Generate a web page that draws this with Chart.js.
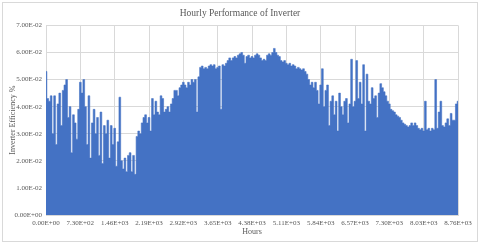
<!DOCTYPE html>
<html>
<head>
<meta charset="utf-8">
<script src="https://cdn.jsdelivr.net/npm/chart.js@4.4.1/dist/chart.umd.min.js"></script>
<style>
    html, body { margin: 0; padding: 0; background: #fff; }
    #wrap { position: relative; width: 480px; height: 244px; }
    #frame { position: absolute; left: 2px; top: 2px; width: 474px; height: 238px; border: 1px solid #d9d9d9; pointer-events: none; }
</style>
</head>
<body>
<div id="wrap">
    <canvas id="inverterChart" width="480" height="244"></canvas>
    <div id="frame"></div>
</div>
<script>
// Zaman adımı (saat) ve eksen ayarları
const hourStep = 36.5;
const xTicks = [0, 730, 1460, 2190, 2920, 3650, 4380, 5110, 5840, 6570, 7300, 8030, 8760];
const yTicks = [0, 0.01, 0.02, 0.03, 0.04, 0.05, 0.06, 0.07];

// Verim değerleri
const efficiency = [
    0.053, 0.043, 0.042, 0.044, 0.030, 0.044, 0.026, 0.041, 0.045, 0.033,
    0.046, 0.048, 0.050, 0.036, 0.040, 0.023, 0.037, 0.034, 0.028, 0.039,
    0.049, 0.045, 0.050, 0.040, 0.026, 0.044, 0.021, 0.034, 0.039, 0.030,
    0.036, 0.022, 0.038, 0.019, 0.033, 0.030, 0.035, 0.021, 0.033, 0.026,
    0.032, 0.018, 0.027, 0.0435, 0.020, 0.017, 0.021, 0.016, 0.022, 0.023,
    0.016, 0.022, 0.015, 0.029, 0.031, 0.030, 0.034, 0.036, 0.037, 0.034,
    0.036, 0.031, 0.043, 0.037, 0.042, 0.038, 0.037, 0.044, 0.043, 0.038,
    0.039, 0.040, 0.038, 0.041, 0.043, 0.046, 0.046, 0.044, 0.047, 0.048,
    0.049, 0.048, 0.047, 0.049, 0.048, 0.050, 0.049, 0.050, 0.038, 0.051,
    0.0545, 0.055, 0.054, 0.0545, 0.054, 0.055, 0.0555, 0.055, 0.0555, 0.054,
    0.0545, 0.055, 0.039, 0.0555, 0.055, 0.056, 0.057, 0.058, 0.057, 0.058,
    0.0585, 0.058, 0.059, 0.0595, 0.060, 0.059, 0.056, 0.0585, 0.059, 0.058,
    0.0585, 0.058, 0.059, 0.0595, 0.059, 0.058, 0.057, 0.0575, 0.057, 0.059,
    0.0595, 0.059, 0.060, 0.0615, 0.060, 0.059, 0.0585, 0.057, 0.0565, 0.057,
    0.056, 0.0555, 0.056, 0.055, 0.0555, 0.055, 0.054, 0.0545, 0.054, 0.0535,
    0.054, 0.053, 0.052, 0.050, 0.048, 0.049, 0.047, 0.049, 0.046, 0.041,
    0.048, 0.054, 0.040, 0.046, 0.048, 0.033, 0.042, 0.044, 0.037, 0.042,
    0.031, 0.045, 0.040, 0.037, 0.042, 0.043, 0.034, 0.041, 0.0575, 0.040,
    0.042, 0.057, 0.043, 0.049, 0.041, 0.0555, 0.031, 0.052, 0.042, 0.041,
    0.047, 0.043, 0.044, 0.036, 0.045, 0.0485, 0.047, 0.0455, 0.044, 0.042,
    0.041, 0.039, 0.0385, 0.038, 0.037, 0.0365, 0.036, 0.035, 0.034, 0.0335,
    0.033, 0.0325, 0.033, 0.034, 0.033, 0.034, 0.033, 0.032, 0.0315, 0.032,
    0.031, 0.042, 0.0315, 0.032, 0.031, 0.032, 0.0315, 0.050, 0.032, 0.038,
    0.042, 0.033, 0.0325, 0.034, 0.0355, 0.033, 0.0375, 0.035, 0.035, 0.041,
    0.042
];

const points = efficiency.map((v, i) => ({ x: i * hourStep, y: v }));

// Excel tarzı bilimsel gösterim: 7.30E+02
function sci(v) {
    if (Math.abs(v) < 1e-12) v = 0;
    const parts = v.toExponential(2).split('e');
    const exp = parseInt(parts[1], 10);
    const sign = exp < 0 ? '-' : '+';
    return parts[0] + 'E' + sign + String(Math.abs(exp)).padStart(2, '0');
}

const serif = 'Liberation Serif';
const textGray = '#595959';
const gridGray = '#d9d9d9';

new Chart(document.getElementById('inverterChart'), {
    type: 'line',
    data: {
        datasets: [{
            data: points,
            stepped: 'middle',
            fill: 'origin',
            backgroundColor: '#4472C4',
            borderColor: '#4472C4',
            borderWidth: 0.6,
            pointRadius: 0
        }]
    },
    options: {
        responsive: false,
        animation: false,
        layout: { padding: { left: 0, right: 0, top: 3, bottom: 0 } },
        plugins: {
            legend: { display: false },
            tooltip: { enabled: false },
            title: {
                display: true,
                text: 'Hourly Performance of Inverter',
                color: textGray,
                font: { family: serif, size: 9.5, weight: 'normal' },
                padding: { top: 5, bottom: 6 }
            }
        },
        scales: {
            x: {
                type: 'linear',
                min: 0,
                max: 8760,
                afterBuildTicks: s => { s.ticks = xTicks.map(v => ({ value: v })); },
                afterFit: s => { s.height = 29; },
                grid: { color: gridGray, drawTicks: false },
                border: { color: gridGray },
                ticks: {
                    padding: 4,
                    maxRotation: 0,
                    autoSkip: false,
                    color: textGray,
                    font: { family: serif, size: 7 },
                    callback: v => sci(v)
                },
                title: {
                    display: true,
                    text: 'Hours',
                    color: textGray,
                    font: { family: serif, size: 8 },
                    padding: { top: 0, bottom: 7 }
                }
            },
            y: {
                min: 0,
                max: 0.07,
                afterBuildTicks: s => { s.ticks = yTicks.map(v => ({ value: v })); },
                afterFit: s => { s.width = 46; },
                grid: { color: gridGray, drawTicks: false },
                border: { color: gridGray },
                ticks: {
                    padding: 4,
                    color: textGray,
                    font: { family: serif, size: 7 },
                    callback: v => sci(v)
                },
                title: {
                    display: true,
                    text: 'Inverter Efficiency %',
                    color: textGray,
                    font: { family: serif, size: 8 },
                    padding: { top: 8, bottom: 0 }
                }
            },
            // sağ boşluk için görünmez eksen (başlık ortalı kalsın)
            yRight: {
                position: 'right',
                min: 0,
                max: 0.07,
                afterFit: s => { s.width = 22; },
                grid: { drawOnChartArea: false, drawTicks: false },
                border: { display: false },
                ticks: { display: false }
            }
        }
    }
});
</script>
</body>
</html>
